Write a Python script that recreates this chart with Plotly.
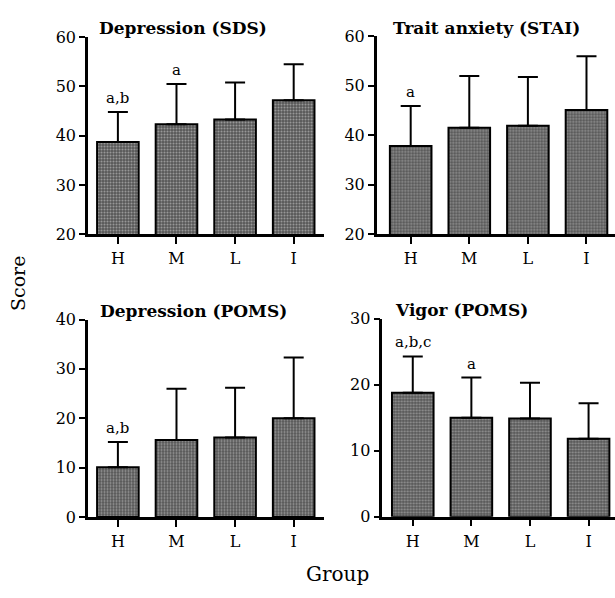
import plotly.graph_objects as go

W, H = 615, 598
groups = ["H", "M", "L", "I"]

titles = ["Depression (SDS)", "Trait anxiety (STAI)", "Depression (POMS)", "Vigor (POMS)"]
means = [
    [38.7, 42.3, 43.3, 47.2],
    [37.8, 41.5, 41.9, 45.1],
    [10.1, 15.6, 16.1, 20.0],
    [18.8, 15.0, 14.9, 11.8],
]
sds = [
    [6.1, 8.2, 7.5, 7.3],
    [8.1, 10.5, 9.9, 10.9],
    [5.1, 10.4, 10.1, 12.3],
    [5.5, 6.1, 5.4, 5.4],
]
letters = [
    ["a,b", "a", "", ""],
    ["a", "", "", ""],
    ["a,b", "", "", ""],
    ["a,b,c", "a", "", ""],
]
yranges = [[20, 60], [20, 60], [0, 40], [0, 30]]
ydticks = [10, 10, 10, 10]

panels = [
    (88, 324, 29.0, 232.7, -0.51),
    (376.7, 615, 28.3, 232.3, -0.58),
    (88, 324, 320.7, 524.7, -0.51),
    (382.3, 615, 320.0, 524.3, -0.52),
]
title_x = [97, 391, 98, 393]
spacing = 58.6

FONT = "DejaVu Serif, serif"
fig = go.Figure()
for i in range(4):
    x0, x1, yt, yb, xl = panels[i]
    xr = [xl, xl + (x1 - x0) / spacing]
    n = i + 1
    xa = "x" if n == 1 else f"x{n}"
    ya = "y" if n == 1 else f"y{n}"
    fig.add_trace(go.Bar(
        x=list(range(4)), y=means[i], base=0,
        width=0.71,
        marker=dict(color="#777777", line=dict(color="black", width=2),
                    pattern=dict(shape=".", fgcolor="#e0e0e0", bgcolor="#555555", size=3, solidity=0.4)),
        error_y=dict(type="data", symmetric=False, array=sds[i], arrayminus=[0]*4,
                     color="black", thickness=2, width=10),
        xaxis=xa, yaxis=ya, showlegend=False,
    ))
    lay_x = dict(domain=[x0 / W, x1 / W], range=xr, tickmode="array",
                 tickvals=list(range(4)), ticktext=groups, showline=True,
                 linecolor="black", linewidth=2.5, ticks="outside", ticklen=7,
                 tickwidth=2, tickcolor="black", showgrid=False, zeroline=False,
                 tickfont=dict(family=FONT, size=16, color="black"),
                 ticklabelstandoff=1, anchor=ya, fixedrange=True)
    lay_y = dict(domain=[1 - yb / H, 1 - yt / H], range=yranges[i], dtick=ydticks[i],
                 showline=True, linecolor="black", linewidth=2.5, ticks="outside",
                 ticklen=6, tickwidth=2, tickcolor="black", showgrid=False,
                 zeroline=False, tickfont=dict(family=FONT, size=16, color="black"),
                 anchor=xa, fixedrange=True)
    fig.update_layout(**{("xaxis" if n == 1 else f"xaxis{n}"): lay_x,
                         ("yaxis" if n == 1 else f"yaxis{n}"): lay_y})
    fig.add_annotation(text=f"<b>{titles[i]}</b>", xref="paper", yref="paper",
                       x=title_x[i] / W, y=1 - (yt - 9) / H, xanchor="left", yanchor="middle",
                       showarrow=False, font=dict(family=FONT, size=17, color="black"))
    for j in range(4):
        if letters[i][j]:
            fig.add_annotation(text=letters[i][j], x=j, y=means[i][j] + sds[i][j],
                               xref=xa, yref=ya, yshift=3, yanchor="bottom",
                               showarrow=False, font=dict(family=FONT, size=15, color="black"))

fig.add_annotation(text="Score", xref="paper", yref="paper", x=18 / W, y=1 - 284 / H,
                   textangle=-90, showarrow=False, xanchor="center", yanchor="middle",
                   font=dict(family=FONT, size=19, color="black"))
fig.add_annotation(text="Group", xref="paper", yref="paper", x=337 / W, y=1 - 584 / H,
                   showarrow=False, xanchor="center", yanchor="middle",
                   font=dict(family=FONT, size=20, color="black"))

fig.update_layout(width=W, height=H, margin=dict(l=0, r=0, t=0, b=0),
                  paper_bgcolor="white", plot_bgcolor="white", bargap=0.3)
fig.write_html("out.html", config={"displayModeBar": False},
               post_script="document.body.style.margin='0px';")
